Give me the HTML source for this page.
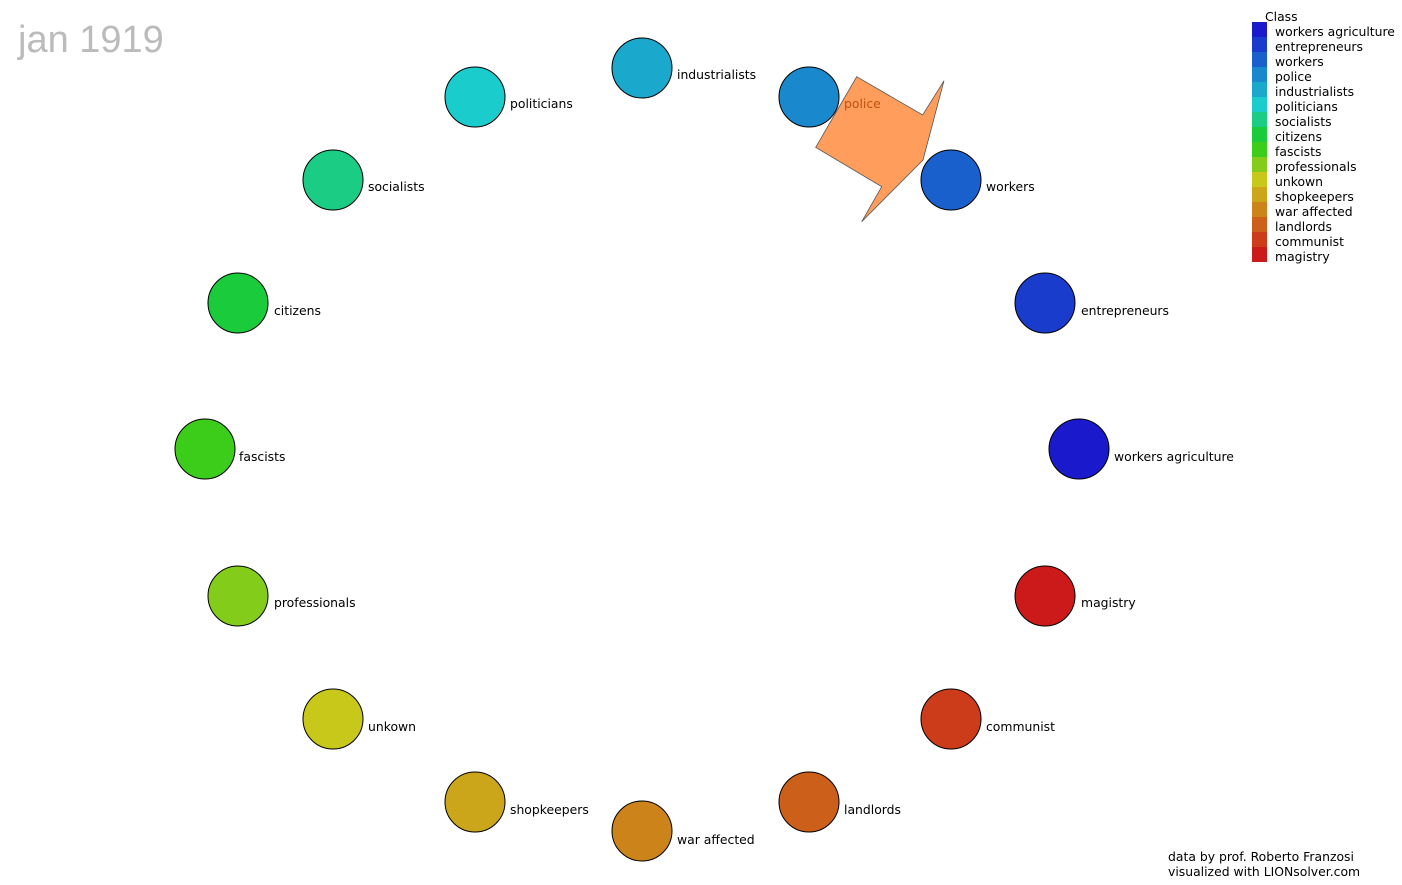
<!DOCTYPE html>
<html><head><meta charset="utf-8"><style>
html,body{margin:0;padding:0;background:#fff;width:1402px;height:885px;overflow:hidden}
text{font-family:"DejaVu Sans","Liberation Sans",sans-serif}
</style></head><body>
<svg width="1402" height="885" xmlns="http://www.w3.org/2000/svg">
<text x="18" y="52" font-size="38" fill="#bbbbbb" style="font-family:'Liberation Sans',sans-serif">jan 1919</text>
<polygon points="856.7,76.7 922.7,115 944,80.7 923,160 861.7,221.7 881.7,186.7 815.7,147.3" fill="#ff9e5c" stroke="#555" stroke-width="0.8"/>
<g stroke="#000" stroke-width="1">
<circle cx="642" cy="68" r="30" fill="#1aa8cc"/>
<circle cx="809" cy="97" r="30" fill="#1a88cc"/>
<circle cx="951" cy="180" r="30" fill="#1a60cc"/>
<circle cx="1045" cy="303" r="30" fill="#1a3ccc"/>
<circle cx="1079" cy="449" r="30" fill="#1a1acc"/>
<circle cx="1045" cy="596" r="30" fill="#cc1a1a"/>
<circle cx="951" cy="719" r="30" fill="#cc3c1a"/>
<circle cx="809" cy="802" r="30" fill="#cc601a"/>
<circle cx="642" cy="831" r="30" fill="#cc841a"/>
<circle cx="475" cy="802" r="30" fill="#cca61a"/>
<circle cx="333" cy="719" r="30" fill="#c8c81a"/>
<circle cx="238" cy="596" r="30" fill="#84cc1a"/>
<circle cx="205" cy="449" r="30" fill="#3ccc1a"/>
<circle cx="238" cy="303" r="30" fill="#1acc3c"/>
<circle cx="333" cy="180" r="30" fill="#1acc84"/>
<circle cx="475" cy="97" r="30" fill="#1acccc"/>
</g>
<g font-size="12.4" fill="#000">
<text x="677" y="79">industrialists</text>
<text x="844" y="108" fill="#c05010">police</text>
<text x="986" y="191">workers</text>
<text x="1081" y="315">entrepreneurs</text>
<text x="1114" y="461">workers agriculture</text>
<text x="1081" y="607">magistry</text>
<text x="986" y="731">communist</text>
<text x="844" y="814">landlords</text>
<text x="677" y="844">war affected</text>
<text x="510" y="814">shopkeepers</text>
<text x="368" y="731">unkown</text>
<text x="274" y="607">professionals</text>
<text x="239" y="461">fascists</text>
<text x="274" y="315">citizens</text>
<text x="368" y="191">socialists</text>
<text x="510" y="108">politicians</text>
</g>
<g>
<rect x="1252" y="22" width="15" height="15" fill="#1a1acc"/>
<rect x="1252" y="37" width="15" height="15" fill="#1a3ccc"/>
<rect x="1252" y="52" width="15" height="15" fill="#1a60cc"/>
<rect x="1252" y="67" width="15" height="15" fill="#1a88cc"/>
<rect x="1252" y="82" width="15" height="15" fill="#1aa8cc"/>
<rect x="1252" y="97" width="15" height="15" fill="#1acccc"/>
<rect x="1252" y="112" width="15" height="15" fill="#1acc84"/>
<rect x="1252" y="127" width="15" height="15" fill="#1acc3c"/>
<rect x="1252" y="142" width="15" height="15" fill="#3ccc1a"/>
<rect x="1252" y="157" width="15" height="15" fill="#84cc1a"/>
<rect x="1252" y="172" width="15" height="15" fill="#c8c81a"/>
<rect x="1252" y="187" width="15" height="15" fill="#cca61a"/>
<rect x="1252" y="202" width="15" height="15" fill="#cc841a"/>
<rect x="1252" y="217" width="15" height="15" fill="#cc601a"/>
<rect x="1252" y="232" width="15" height="15" fill="#cc3c1a"/>
<rect x="1252" y="247" width="15" height="15" fill="#cc1a1a"/>
</g>
<g font-size="12.4" fill="#000">
<text x="1265" y="21">Class</text>
<text x="1275" y="36">workers agriculture</text>
<text x="1275" y="51">entrepreneurs</text>
<text x="1275" y="66">workers</text>
<text x="1275" y="81">police</text>
<text x="1275" y="96">industrialists</text>
<text x="1275" y="111">politicians</text>
<text x="1275" y="126">socialists</text>
<text x="1275" y="141">citizens</text>
<text x="1275" y="156">fascists</text>
<text x="1275" y="171">professionals</text>
<text x="1275" y="186">unkown</text>
<text x="1275" y="201">shopkeepers</text>
<text x="1275" y="216">war affected</text>
<text x="1275" y="231">landlords</text>
<text x="1275" y="246">communist</text>
<text x="1275" y="261">magistry</text>
<text x="1168" y="861">data by prof. Roberto Franzosi</text>
<text x="1168" y="876">visualized with LIONsolver.com</text>
</g>
</svg>
</body></html>
